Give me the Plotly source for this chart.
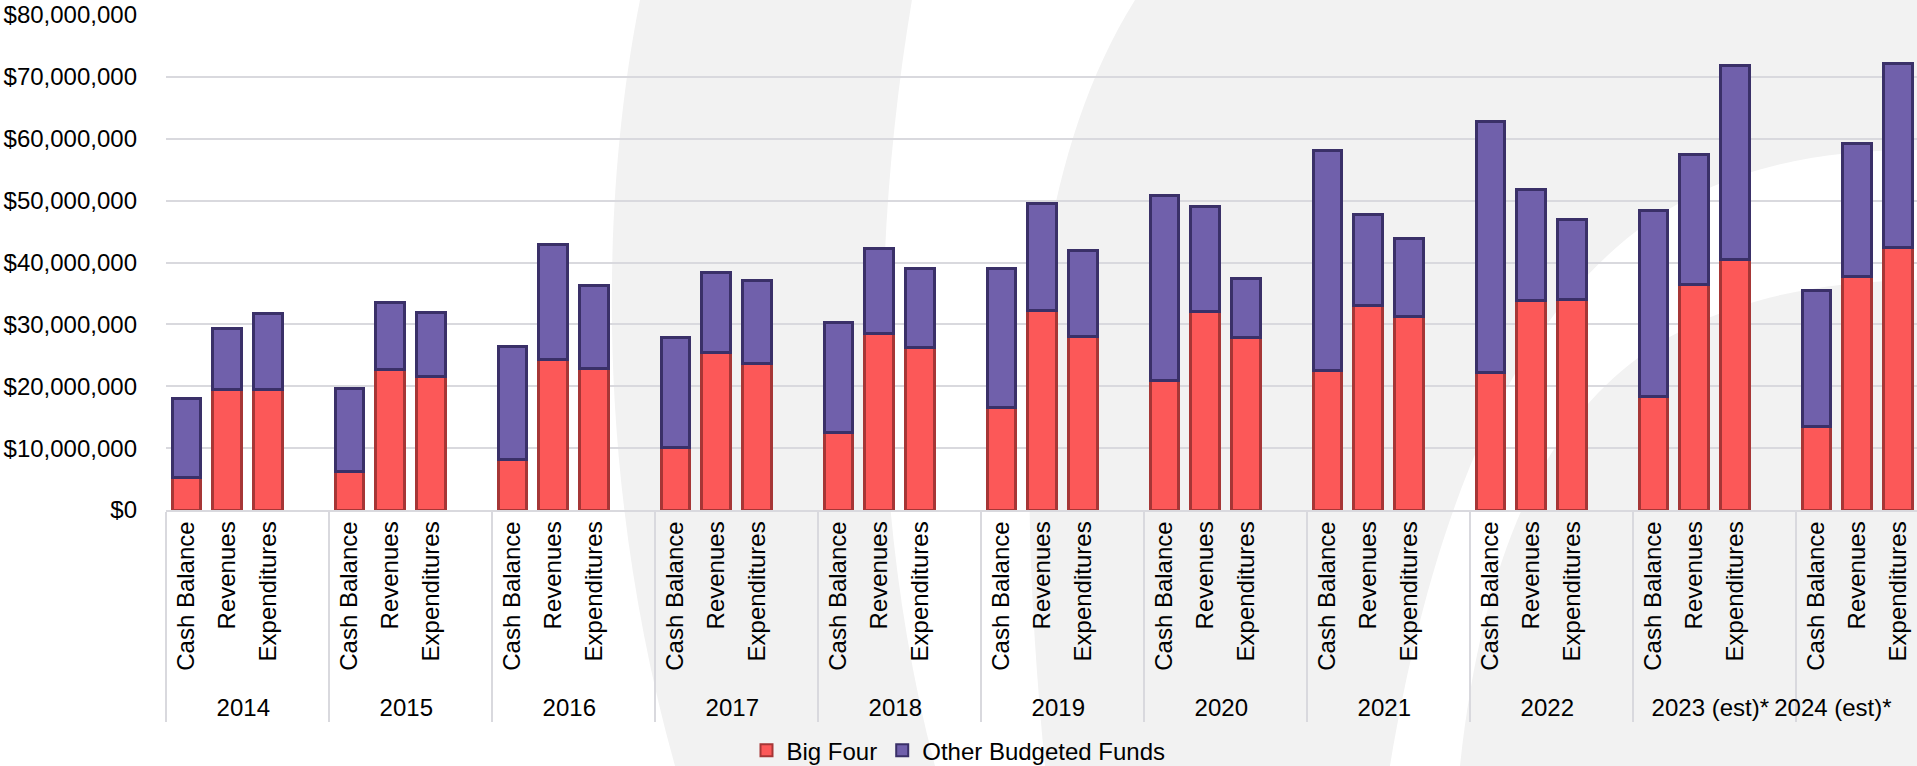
import plotly.graph_objects as go

# ---------------- data ----------------
years = ["2014", "2015", "2016", "2017", "2018", "2019", "2020", "2021", "2022",
         "2023 (est)*", "2024 (est)*"]
items = ["Cash Balance", "Revenues", "Expenditures"]

# values per year: [Cash Balance, Revenues, Expenditures]
big_four = [
    [5_300_000, 19_400_000, 19_500_000],
    [6_300_000, 22_700_000, 21_600_000],
    [8_100_000, 24_300_000, 22_900_000],
    [10_100_000, 25_500_000, 23_600_000],
    [12_500_000, 28_600_000, 26_300_000],
    [16_600_000, 32_200_000, 28_000_000],
    [21_000_000, 32_100_000, 27_800_000],
    [22_500_000, 33_000_000, 31_200_000],
    [22_300_000, 33_900_000, 34_100_000],
    [18_300_000, 36_400_000, 40_500_000],
    [13_500_000, 37_700_000, 42_400_000],
]
other_funds = [
    [12_800_000, 9_900_000, 12_300_000],
    [13_400_000, 10_900_000, 10_300_000],
    [18_400_000, 18_600_000, 13_400_000],
    [17_700_000, 12_900_000, 13_500_000],
    [17_800_000, 13_700_000, 12_800_000],
    [22_400_000, 17_400_000, 13_900_000],
    [29_800_000, 16_900_000, 9_600_000],
    [35_600_000, 14_800_000, 12_700_000],
    [40_500_000, 17_900_000, 12_800_000],
    [30_100_000, 21_100_000, 31_400_000],
    [21_900_000, 21_500_000, 29_800_000],
]
series_names = ["Big Four", "Other Budgeted Funds"]
y_ticks = [0, 10_000_000, 20_000_000, 30_000_000, 40_000_000, 50_000_000,
           60_000_000, 70_000_000, 80_000_000]

# ---------------- build category axis (3 items + a blank spacer slot per year) ----------------
NBSP = "\u00a0"
x_year, x_item, y_big, y_oth = [], [], [], []
for yi, yr in enumerate(years):
    # the last group is cut by the chart's right edge; pad its label so it stays visible
    label = yr + NBSP * 6 if yi == len(years) - 1 else yr
    for ii, it in enumerate(items):
        x_year.append(label)
        x_item.append(it)
        y_big.append(big_four[yi][ii])
        y_oth.append(other_funds[yi][ii])
    x_year.append(label)
    x_item.append(" ")
    y_big.append(None)
    y_oth.append(None)

FONT = "Liberation Sans, Arial, sans-serif"
W, H = 1917, 766
L, R, T, B = 166, 0, 15, 256

fig = go.Figure()
fig.add_trace(go.Bar(
    x=[x_year, x_item], y=y_big, name=series_names[0],
    marker=dict(color="#fc5858", line=dict(color="#a63636", width=3)),
))
fig.add_trace(go.Bar(
    x=[x_year, x_item], y=y_oth, name=series_names[1],
    marker=dict(color="#7060ab", line=dict(color="#3a3068", width=3)),
))

# ---------------- decorative watermark background ----------------
pw, ph = W - L - R, H - T - B


def P(x, y):
    return f"{(x - L) / pw:.4f},{(H - B - y) / ph:.4f}"


def path(cmds):
    out = []
    for c in cmds:
        if c[0] in "ML":
            out.append(c[0] + " " + P(c[1], c[2]))
        elif c[0] == "C":
            out.append("C " + P(c[1], c[2]) + " " + P(c[3], c[4]) + " " + P(c[5], c[6]))
        elif c[0] == "Z":
            out.append("Z")
    return " ".join(out)


white_regions = [
    [("M", 0, 0), ("L", 640, 0), ("C", 600, 200, 595, 480, 675, 766), ("L", 0, 766), ("Z",)],
    [("M", 912, 0), ("C", 870, 250, 870, 520, 935, 766), ("L", 1045, 766),
     ("C", 1020, 500, 1010, 200, 1135, 0), ("Z",)],
    [("M", 1917, 150), ("C", 1700, 150, 1480, 230, 1390, 766), ("L", 1460, 766),
     ("C", 1500, 400, 1650, 285, 1917, 280), ("Z",)],
]
shapes = []
for reg in white_regions:
    shapes.append(dict(type="path", xref="paper", yref="paper", path=path(reg),
                       fillcolor="#ffffff", line=dict(width=0), layer="below"))

fig.update_layout(
    width=W, height=H,
    margin=dict(l=L, r=R, t=T, b=B, pad=0, autoexpand=False),
    paper_bgcolor="#f2f2f2",
    plot_bgcolor="rgba(0,0,0,0)",
    barmode="stack",
    bargap=0.30,
    font=dict(family=FONT, size=24, color="#000000"),
    shapes=shapes,
    showlegend=True,
    legend=dict(orientation="h", xref="container", yref="container",
                x=0.5, xanchor="center", y=0.02, yanchor="middle",
                traceorder="normal",
                font=dict(size=24, color="#000000"), bgcolor="rgba(0,0,0,0)",
                itemsizing="constant", tracegroupgap=0),
    xaxis=dict(
        type="multicategory",
        range=[-0.5, 42.47],
        tickangle=-90,
        tickfont=dict(size=24, color="#000000"),
        showdividers=True, dividercolor="#d9d9de", dividerwidth=1.5,
        showline=True, linecolor="#d9d9de", linewidth=1.5,
        showgrid=False, ticks="", automargin=False,
    ),
    yaxis=dict(
        range=[0, 80_000_000],
        tickvals=y_ticks,
        tickformat="$,.0f",
        showgrid=True, gridcolor="#d9d9de", gridwidth=1.5,
        zeroline=False, showline=False, ticks="",
        ticklabelstandoff=28, automargin=False,
        tickfont=dict(size=24, color="#000000"),
    ),
)

fig.write_html("out.html", config={"displayModeBar": False},
               post_script="document.body.style.margin='0';")
